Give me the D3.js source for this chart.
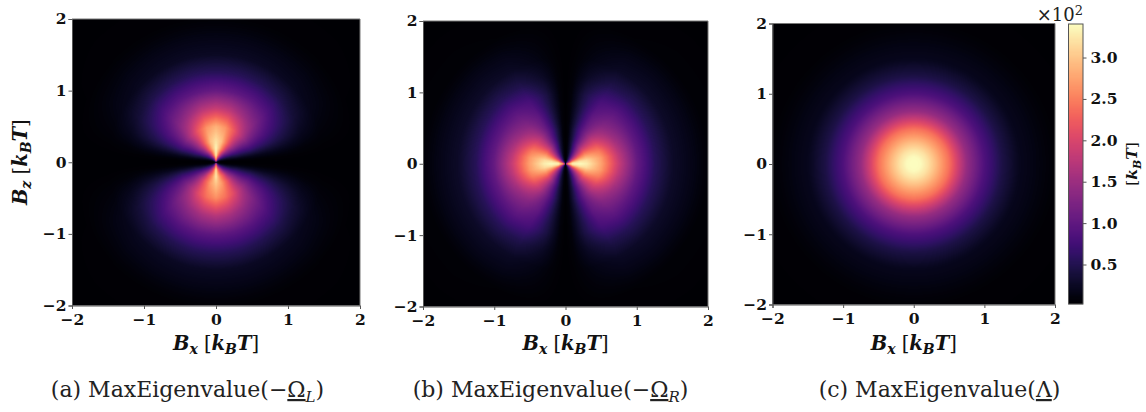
<!DOCTYPE html>
<html>
<head>
<meta charset="utf-8">
<script src="https://cdn.jsdelivr.net/npm/d3@7"></script>
<style>
  body { margin: 0; background: #fff; }
  svg { display: block; }
  .tick text { font-family: "DejaVu Serif", serif; font-weight: bold; font-size: 15.5px; fill: #111; }
  .label { font-family: "DejaVu Serif", serif; font-weight: bold; font-style: italic; font-size: 19.5px; fill: #111; }
  .label .up { font-style: normal; font-weight: normal; }
  .caption { font-family: "DejaVu Serif", serif; font-size: 22px; fill: #222; }
  .offset { font-family: "DejaVu Serif", serif; font-size: 18px; fill: #222; }
  .domain, .tick line { stroke: #555; }
</style>
</head>
<body>
<svg id="chart" width="1146" height="412"></svg>
<script>
// Heatmap values, in units of 10^2 k_B T, on a polar grid (one quadrant).
// Rows follow radii, columns follow the angle from the Bx axis.
const radii = [0, 0.05, 0.1, 0.2, 0.3, 0.5, 0.75, 1, 1.25, 1.5, 2, 2.83];

const anglesL = [0, 5, 10, 20, 30, 45, 60, 75, 90];
const omegaL = [
  [0.02, 0.02, 0.04, 0.10, 0.25, 0.60, 1.00, 1.80, 2.60],
  [0.02, 0.03, 0.05, 0.15, 0.30, 0.70, 1.20, 2.00, 3.00],
  [0.02, 0.03, 0.06, 0.25, 0.50, 1.00, 1.70, 2.50, 3.30],
  [0.02, 0.05, 0.12, 0.40, 0.80, 1.40, 2.20, 2.85, 3.35],
  [0.02, 0.06, 0.17, 0.55, 0.95, 1.60, 2.30, 2.95, 3.20],
  [0.02, 0.07, 0.20, 0.65, 1.05, 1.65, 2.20, 2.65, 2.85],
  [0.02, 0.06, 0.18, 0.55, 0.85, 1.25, 1.50, 1.75, 1.85],
  [0.02, 0.05, 0.14, 0.40, 0.60, 0.85, 0.95, 1.00, 1.05],
  [0.02, 0.04, 0.08, 0.22, 0.35, 0.47, 0.52, 0.55, 0.55],
  [0.02, 0.03, 0.05, 0.11, 0.17, 0.22, 0.24, 0.25, 0.25],
  [0.02, 0.02, 0.025, 0.03, 0.04, 0.05, 0.05, 0.05, 0.05],
  [0.02, 0.02, 0.02, 0.02, 0.02, 0.02, 0.02, 0.02, 0.02]
];
// the lobe below the Bx axis is a little dimmer near the centre
const omegaLLower = [
  [0.02, 0.02, 0.04, 0.10, 0.25, 0.55, 0.95, 1.60, 2.30],
  [0.02, 0.03, 0.05, 0.15, 0.30, 0.65, 1.10, 1.80, 2.80],
  [0.02, 0.03, 0.06, 0.25, 0.50, 0.95, 1.60, 2.30, 3.20],
  [0.02, 0.05, 0.12, 0.40, 0.78, 1.35, 2.10, 2.60, 3.25],
  [0.02, 0.06, 0.17, 0.55, 0.92, 1.55, 2.20, 2.70, 3.00],
  [0.02, 0.07, 0.20, 0.62, 1.02, 1.55, 2.05, 2.40, 2.60],
  [0.02, 0.06, 0.18, 0.52, 0.82, 1.20, 1.42, 1.60, 1.70],
  [0.02, 0.05, 0.14, 0.38, 0.58, 0.82, 0.92, 0.98, 1.00],
  [0.02, 0.04, 0.08, 0.22, 0.35, 0.47, 0.52, 0.55, 0.55],
  [0.02, 0.03, 0.05, 0.11, 0.17, 0.22, 0.24, 0.25, 0.25],
  [0.02, 0.02, 0.025, 0.03, 0.04, 0.05, 0.05, 0.05, 0.05],
  [0.02, 0.02, 0.02, 0.02, 0.02, 0.02, 0.02, 0.02, 0.02]
];

const anglesR = [0, 10, 20, 30, 45, 60, 75, 85, 90];
const omegaR = [
  [2.60, 2.20, 1.60, 1.20, 0.70, 0.35, 0.12, 0.03, 0.02],
  [2.90, 2.60, 2.00, 1.50, 0.90, 0.45, 0.15, 0.04, 0.02],
  [3.35, 3.10, 2.50, 1.90, 1.15, 0.60, 0.20, 0.05, 0.02],
  [3.40, 3.20, 2.70, 2.20, 1.50, 0.85, 0.30, 0.07, 0.02],
  [3.30, 3.15, 2.80, 2.40, 1.75, 1.05, 0.40, 0.08, 0.02],
  [2.75, 2.70, 2.50, 2.20, 1.70, 1.10, 0.50, 0.10, 0.02],
  [1.85, 1.78, 1.65, 1.50, 1.30, 1.00, 0.45, 0.10, 0.02],
  [1.05, 1.03, 1.00, 0.98, 0.95, 0.80, 0.42, 0.09, 0.02],
  [0.55, 0.55, 0.55, 0.55, 0.55, 0.48, 0.26, 0.07, 0.02],
  [0.28, 0.28, 0.28, 0.28, 0.28, 0.25, 0.14, 0.05, 0.02],
  [0.06, 0.06, 0.06, 0.06, 0.06, 0.05, 0.04, 0.025, 0.02],
  [0.02, 0.02, 0.02, 0.02, 0.02, 0.02, 0.02, 0.02, 0.02]
];

const lambdaRadial = [3.40, 3.40, 3.38, 3.20, 2.95, 2.40, 1.45, 0.85, 0.45, 0.20, 0.05, 0.02];

const axisTicks = [-2, -1, 0, 1, 2];
const colorTicks = [0.5, 1.0, 1.5, 2.0, 2.5, 3.0];
const colorDomain = [0.023, 3.405];
const captions = [
  '(a) MaxEigenvalue(−<tspan text-decoration="underline">Ω</tspan><tspan dy="5" font-size="15" font-style="italic">L</tspan><tspan dy="-5">)</tspan>',
  '(b) MaxEigenvalue(−<tspan text-decoration="underline">Ω</tspan><tspan dy="5" font-size="15" font-style="italic">R</tspan><tspan dy="-5">)</tspan>',
  '(c) MaxEigenvalue(<tspan text-decoration="underline">Λ</tspan>)'
];

const svg = d3.select("#chart");
const color = d3.scaleSequential(d3.interpolateMagma).domain(colorDomain);

const lookupIndex = (arr, v) => {
  const i = Math.min(d3.bisectRight(arr, v) - 1, arr.length - 2);
  return [i, (v - arr[i]) / (arr[i + 1] - arr[i])];
};

// read a polar table at the position of one screen pixel
function sampler(table, angles, lower) {
  return (bx, bz) => {
    const t = bz < 0 && lower ? lower : table;
    const r = Math.min(Math.hypot(bx, bz), 2.83);
    const deg = Math.atan2(Math.abs(bz), Math.abs(bx)) * 180 / Math.PI;
    const [i, fr] = lookupIndex(radii, r);
    const [j, fa] = lookupIndex(angles, deg);
    const low = t[i][j] + (t[i][j + 1] - t[i][j]) * fa;
    const high = t[i + 1][j] + (t[i + 1][j + 1] - t[i + 1][j]) * fa;
    return low + (high - low) * fr;
  };
}
const radialSampler = (bx, bz) => {
  const r = Math.min(Math.hypot(bx, bz), 2.83);
  const [i, fr] = lookupIndex(radii, r);
  return lambdaRadial[i] + (lambdaRadial[i + 1] - lambdaRadial[i]) * fr;
};

const panels = [
  { x0: 72, x1: 360, y0: 19, y1: 305.5, value: sampler(omegaL, anglesL, omegaLLower), capX: 187.5, yLabel: true },
  { x0: 423, x1: 708, y0: 21, y1: 306.5, value: sampler(omegaR, anglesR), capX: 550.5, yLabel: false },
  { x0: 772.5, x1: 1055, y0: 23.5, y1: 304.5, value: radialSampler, capX: 939.5, yLabel: false }
];

const unitLabel = '<tspan>B</tspan><tspan dy="4" font-size="14">x</tspan><tspan dy="-4" class="up"> [</tspan><tspan>k</tspan><tspan dy="4" font-size="14">B</tspan><tspan dy="-4">T</tspan><tspan class="up">]</tspan>';
const unitLabelZ = unitLabel.replace('font-size="14">x', 'font-size="14">z');

panels.forEach(p => {
  const x = d3.scaleLinear().domain([-2, 2]).range([p.x0, p.x1]);
  const y = d3.scaleLinear().domain([-2, 2]).range([p.y1, p.y0]);

  // one canvas pixel per screen pixel
  const w = Math.round(p.x1 - p.x0), h = Math.round(p.y1 - p.y0);
  const canvas = document.createElement("canvas");
  canvas.width = w;
  canvas.height = h;
  const ctx = canvas.getContext("2d");
  const img = ctx.createImageData(w, h);
  for (let py = 0; py < h; py++) {
    for (let px = 0; px < w; px++) {
      const v = p.value(x.invert(p.x0 + (px + 0.5) * (p.x1 - p.x0) / w), y.invert(p.y0 + (py + 0.5) * (p.y1 - p.y0) / h));
      const c = d3.rgb(color(v));
      const k = (py * w + px) * 4;
      img.data[k] = c.r;
      img.data[k + 1] = c.g;
      img.data[k + 2] = c.b;
      img.data[k + 3] = 255;
    }
  }
  ctx.putImageData(img, 0, 0);
  svg.append("image")
    .attr("x", p.x0).attr("y", p.y0)
    .attr("width", p.x1 - p.x0).attr("height", p.y1 - p.y0)
    .attr("preserveAspectRatio", "none")
    .attr("href", canvas.toDataURL());

  svg.append("g").attr("transform", `translate(0,${p.y1})`)
    .call(d3.axisBottom(x).tickValues(axisTicks).tickSize(3.5).tickPadding(5).tickFormat(d3.format("d")));
  svg.append("g").attr("transform", `translate(${p.x0},0)`)
    .call(d3.axisLeft(y).tickValues(axisTicks).tickSize(3.5).tickPadding(2).tickFormat(d3.format("d")));
  svg.append("path").attr("fill", "none").attr("stroke", "#777")
    .attr("d", `M${p.x0},${p.y0}H${p.x1}V${p.y1}`);

  svg.append("text").attr("class", "label").attr("text-anchor", "middle")
    .attr("x", (p.x0 + p.x1) / 2).attr("y", 350).html(unitLabel);
  if (p.yLabel) {
    svg.append("text").attr("class", "label").attr("text-anchor", "middle")
      .attr("transform", `translate(27,${(p.y0 + p.y1) / 2}) rotate(-90)`).html(unitLabelZ);
  }
});

captions.forEach((c, i) => {
  svg.append("text").attr("class", "caption").attr("text-anchor", "middle")
    .attr("x", panels[i].capX).attr("y", 397).html(c);
});

// colour bar
const cbar = { x0: 1068.5, x1: 1083, y0: 24, y1: 304 };
const cy = d3.scaleLinear().domain(colorDomain).range([cbar.y1, cbar.y0]);
svg.append("g").selectAll("rect")
  .data(d3.range(cbar.y0, cbar.y1))
  .join("rect")
  .attr("x", cbar.x0).attr("width", cbar.x1 - cbar.x0)
  .attr("y", d => d).attr("height", 1.2)
  .attr("fill", d => color(cy.invert(d + 0.5)));
svg.append("rect").attr("x", cbar.x0).attr("y", cbar.y0)
  .attr("width", cbar.x1 - cbar.x0).attr("height", cbar.y1 - cbar.y0)
  .attr("fill", "none").attr("stroke", "#555");
const cAxis = svg.append("g").attr("transform", `translate(${cbar.x1},0)`)
  .call(d3.axisRight(cy).tickValues(colorTicks).tickSize(3.5).tickPadding(4).tickFormat(d3.format(".1f")));
cAxis.select(".domain").remove();

svg.append("text").attr("class", "offset").attr("x", 1083).attr("y", 21).attr("text-anchor", "end")
  .html('×10<tspan dy="-6" font-size="13">2</tspan>');
svg.append("text").attr("class", "label").attr("text-anchor", "middle").style("font-size", "15.5px")
  .attr("transform", "translate(1137,164) rotate(-90)")
  .html('<tspan class="up">[</tspan><tspan>k</tspan><tspan dy="4" font-size="11">B</tspan><tspan dy="-4">T</tspan><tspan class="up">]</tspan>');
</script>
</body>
</html>
